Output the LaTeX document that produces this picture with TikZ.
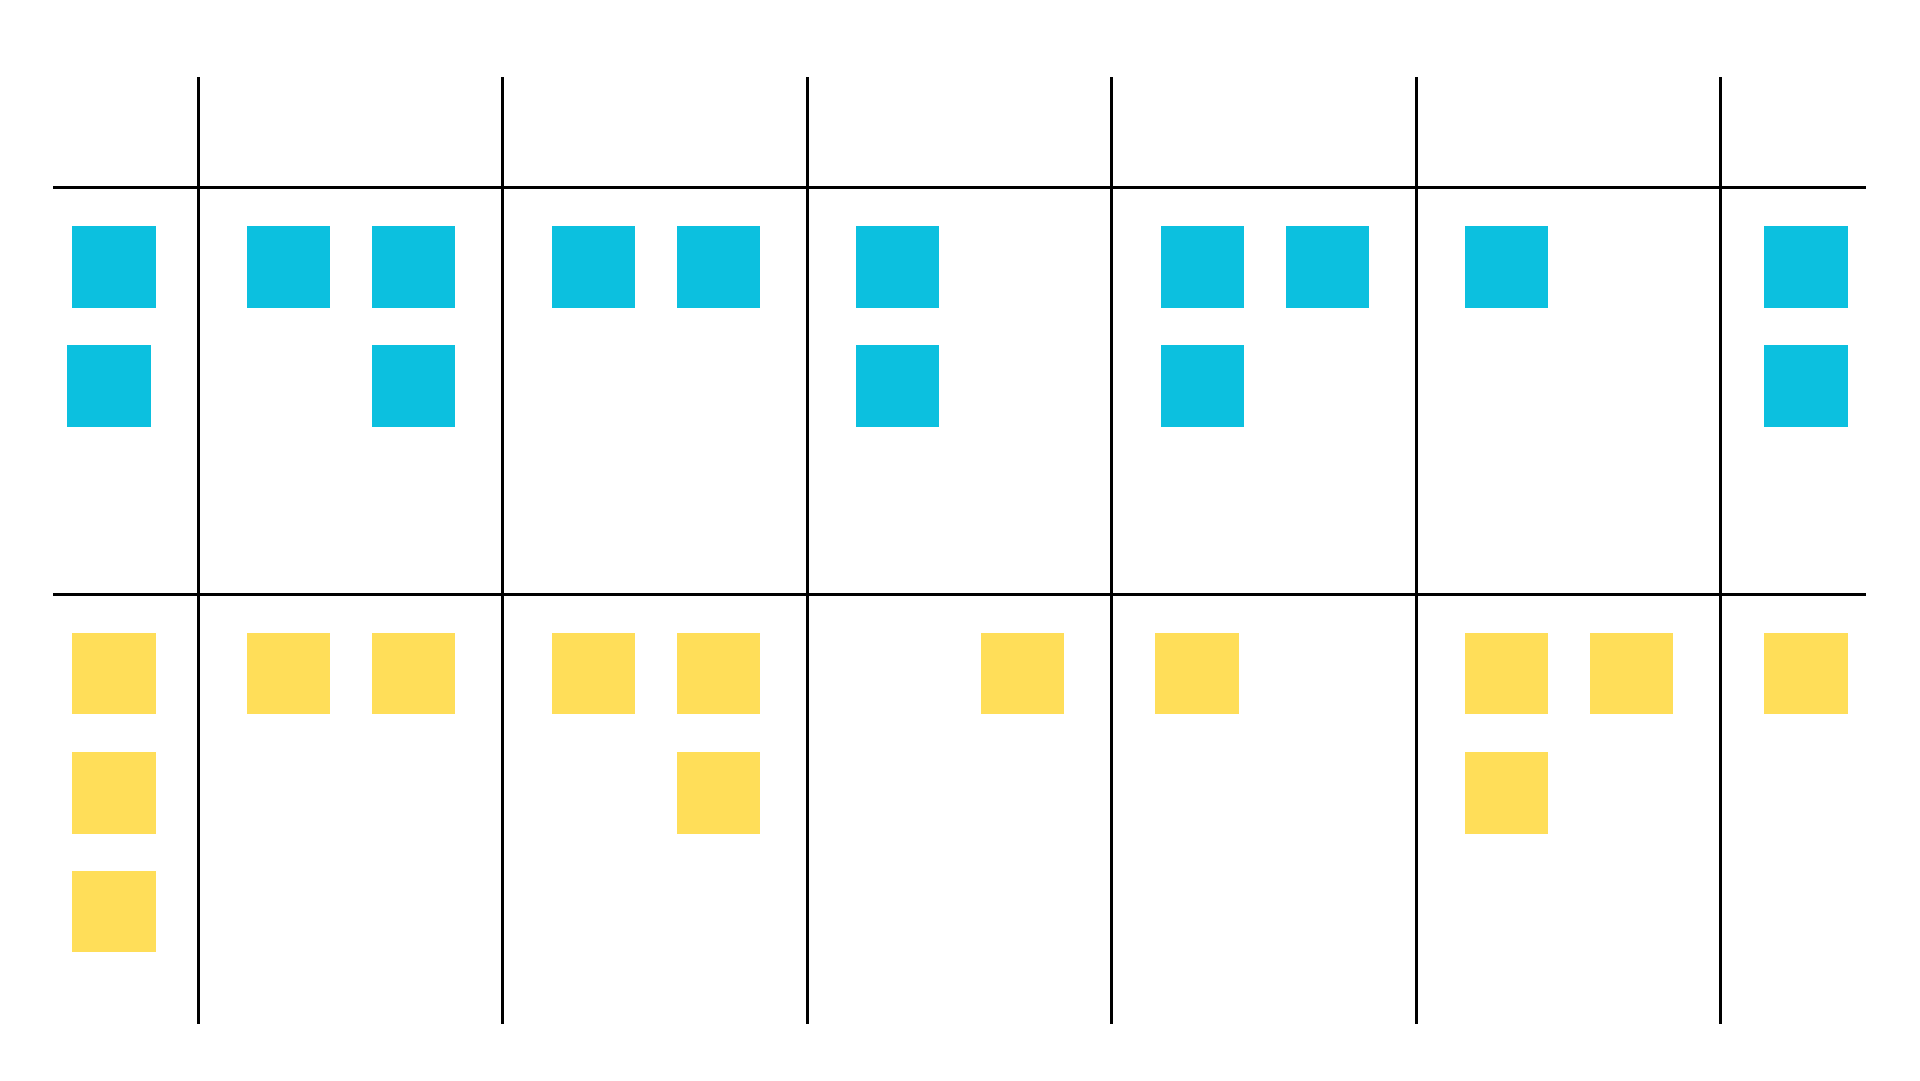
\documentclass[tikz,border=0pt]{standalone}
\definecolor{cardblue}{HTML}{0CC0DF}
\definecolor{cardyellow}{HTML}{FFDE59}
\begin{document}
\begin{tikzpicture}[x=1pt,y=-1pt,
  gridline/.style={draw=black,line width=3pt},
  card/.style={rectangle,inner sep=0pt,outer sep=0pt,minimum width=83.3pt,minimum height=81.5pt,anchor=north west},
  bluecard/.style={card,fill=cardblue},
  yellowcard/.style={card,fill=cardyellow}]
\path[fill=white,use as bounding box] (0,0) rectangle (1920,1080);
% grid
\foreach \i/\x in {1/198.3,2/502.8,3/807.3,4/1111.8,5/1416.3,6/1720.8}{
  \draw[gridline] (\x,77.3) -- (\x,1024);
}
\draw[gridline] (53.3,187.3) -- (1866.2,187.3);
\draw[gridline] (53.3,594) -- (1866.2,594);
% blue cards
\node[bluecard] (b01) at (72.3,226) {};
\node[bluecard] (b02) at (67.3,345) {};
\node[bluecard] (b11) at (246.5,226) {};
\node[bluecard] (b12) at (371.5,226) {};
\node[bluecard] (b13) at (371.5,345) {};
\node[bluecard] (b21) at (551.5,226) {};
\node[bluecard] (b22) at (676.5,226) {};
\node[bluecard] (b31) at (855.8,226) {};
\node[bluecard] (b32) at (855.8,345) {};
\node[bluecard] (b41) at (1160.5,226) {};
\node[bluecard] (b42) at (1285.5,226) {};
\node[bluecard] (b43) at (1160.5,345) {};
\node[bluecard] (b51) at (1465,226) {};
\node[bluecard] (b61) at (1764.3,226) {};
\node[bluecard] (b62) at (1764.3,345) {};
% yellow cards
\node[yellowcard] (y01) at (72.3,632.7) {};
\node[yellowcard] (y02) at (72.3,752) {};
\node[yellowcard] (y03) at (72.3,870.7) {};
\node[yellowcard] (y11) at (246.5,632.7) {};
\node[yellowcard] (y12) at (371.5,632.7) {};
\node[yellowcard] (y21) at (551.5,632.7) {};
\node[yellowcard] (y22) at (676.5,632.7) {};
\node[yellowcard] (y23) at (676.5,752) {};
\node[yellowcard] (y31) at (980.8,632.7) {};
\node[yellowcard] (y41) at (1155.4,632.7) {};
\node[yellowcard] (y51) at (1465,632.7) {};
\node[yellowcard] (y52) at (1590,632.7) {};
\node[yellowcard] (y53) at (1465,752) {};
\node[yellowcard] (y61) at (1764.3,632.7) {};
\end{tikzpicture}
\end{document}
